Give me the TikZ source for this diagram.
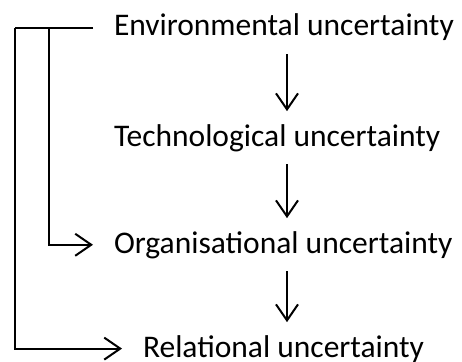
\documentclass[tikz,border=0pt]{standalone}
\usepackage{fontspec}
\setmainfont{Carlito}
\usetikzlibrary{arrows.meta}

\begin{document}
\begin{tikzpicture}[x=1pt,y=-1pt,line width=2pt,
  lbl/.style={anchor=base west,inner xsep=20pt,inner ysep=12pt,font=\fontsize{31.5}{36}\selectfont},
  arr/.style={-{Straight Barb[length=16pt,width=22pt]}}]
\useasboundingbox (0,0) rectangle (462,361);

\node[lbl](env) at (93,36){Environmental uncertainty};
\node[lbl](tech) at (93,146){Technological uncertainty};
\node[lbl](org) at (93,253){Organisational uncertainty};
\node[lbl](rel) at (122,357){Relational uncertainty};

\coordinate (ax) at (287,0);
\coordinate (outer) at (15,0);
\coordinate (inner) at (49,0);

\draw[arr](env.south -| ax)--(tech.north -| ax);
\draw[arr](tech.south -| ax)--(org.north -| ax);
\draw[arr](org.south -| ax)--(rel.north -| ax);

\draw(env.west)--(env.west -| outer);
\draw[arr](env.west -| outer) |- (rel.west);
\draw[arr](env.west -| inner) |- (org.west);

\end{tikzpicture}
\end{document}
